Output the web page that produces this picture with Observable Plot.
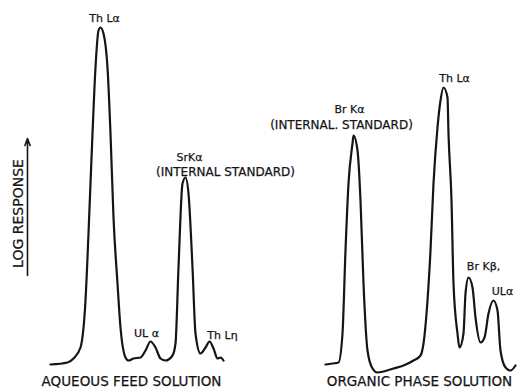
<!DOCTYPE html>
<html>
<head>
<meta charset="utf-8">
<script src="https://cdn.jsdelivr.net/npm/d3@7"></script>
<script src="https://cdn.jsdelivr.net/npm/@observablehq/plot@0.6"></script>
<style>
  html, body { margin: 0; padding: 0; background: #fff; }
  svg text { font-family: "DejaVu Sans", sans-serif; }
</style>
</head>
<body>
<div id="chart"></div>
<script>
// Aqueous feed solution trace (channel, log response)
const aqX = [50,67,73,80,85,88,92,95,98,100,103,107,110,113,117,120,125,128,133,140,145,150,155,160,165,172,175,178,182,185,188,192,195,200,205,209,213,217,220,223];
const aqY = [11,13,17,28,75,142,242,308,345,348,342,308,242,158,92,48,18,15,17,18,25,34,28,17,15,20,32,108,192,198,182,108,42,22,28,34,27,17,18,15];

// Organic phase solution trace
const orgX = [325,332,338,342,345,348,352,353,357,360,363,367,372,377,383,393,403,413,420,423,427,430,433,437,440,443,447,448,451,453,457,459,463,465,468,472,475,480,484,488,493,497,500,505,510,515];
const orgY = [11,12,13,42,125,192,232,240,225,175,92,25,7,3,4,7,10,15,20,32,75,125,192,248,275,288,278,242,175,92,42,28,42,82,98,88,58,33,38,62,75,65,25,8,5,10];

// Peak labels
const peakLabels = ["Th Lα","UL α","Th Lη","SrKα","Br Kα","Th Lα","Br Kβ,","ULα"];
const peakLabelX = [104,146,222,189,349,454,483,502];
const peakLabelY = [357,42,40,218,266,297,109,84];

// Internal standard notes
const stdLabels = ["(INTERNAL STANDARD)","(INTERNAL. STANDARD)"];
const stdLabelX = [225,341];
const stdLabelY = [203,250];

// Panel titles
const titles = ["AQUEOUS FEED SOLUTION","ORGANIC PHASE SOLUTION"];
const titleX = [131,419];
const titleY = [-6,-6];

// Axis indicator
const axisLabel = "LOG RESPONSE";
const axisLabelX = 18, axisLabelY = 162;
const arrowX = 27, arrowFrom = 100, arrowTo = 237;

const aq = aqX.map((x, i) => ({x, y: aqY[i]}));
const org = orgX.map((x, i) => ({x, y: orgY[i]}));
const labels = peakLabels.map((t, i) => ({t, x: peakLabelX[i], y: peakLabelY[i]}));
const stds = stdLabels.map((t, i) => ({t, x: stdLabelX[i], y: stdLabelY[i]}));
const tdata = titles.map((t, i) => ({t, x: titleX[i], y: titleY[i]}));

const ink = "#151515";
const chart = Plot.plot({
  width: 520,
  height: 390,
  margin: 0,
  x: {domain: [0, 520], range: [0, 520], axis: null},
  y: {domain: [0, 350], range: [375, 25], axis: null},
  style: {background: "#fff"},
  marks: [
    Plot.line(aq, {x: "x", y: "y", curve: "monotone-x", stroke: ink, strokeWidth: 2.2, strokeLinejoin: "round"}),
    Plot.line(org, {x: "x", y: "y", curve: "monotone-x", stroke: ink, strokeWidth: 2.2, strokeLinejoin: "round"}),
    Plot.text(labels, {x: "x", y: "y", text: "t", fontSize: 11, fill: ink, stroke: ink, strokeWidth: 0.25, textAnchor: "middle", lineAnchor: "middle", style: "letter-spacing:0.3px"}),
    Plot.text(stds, {x: "x", y: "y", text: "t", fontSize: 12, fill: ink, stroke: ink, strokeWidth: 0.25, textAnchor: "middle", lineAnchor: "middle", style: "letter-spacing:1.3px"}),
    Plot.text(tdata, {x: "x", y: "y", text: "t", fontSize: 13.5, fill: ink, stroke: ink, strokeWidth: 0.25, textAnchor: "middle", lineAnchor: "middle", style: "letter-spacing:0.2px"}),
    Plot.text([axisLabel], {x: () => axisLabelX, y: () => axisLabelY, text: d => d, rotate: -90, fontSize: 14, fill: ink, stroke: ink, strokeWidth: 0.25, textAnchor: "middle", lineAnchor: "middle", style: "letter-spacing:0.7px"}),
    Plot.arrow([0], {x1: () => arrowX, x2: () => arrowX, y1: () => arrowFrom, y2: () => arrowTo, stroke: ink, strokeWidth: 1.6, headLength: 7, headAngle: 40})
  ]
});
document.getElementById("chart").appendChild(chart);
</script>
</body>
</html>
